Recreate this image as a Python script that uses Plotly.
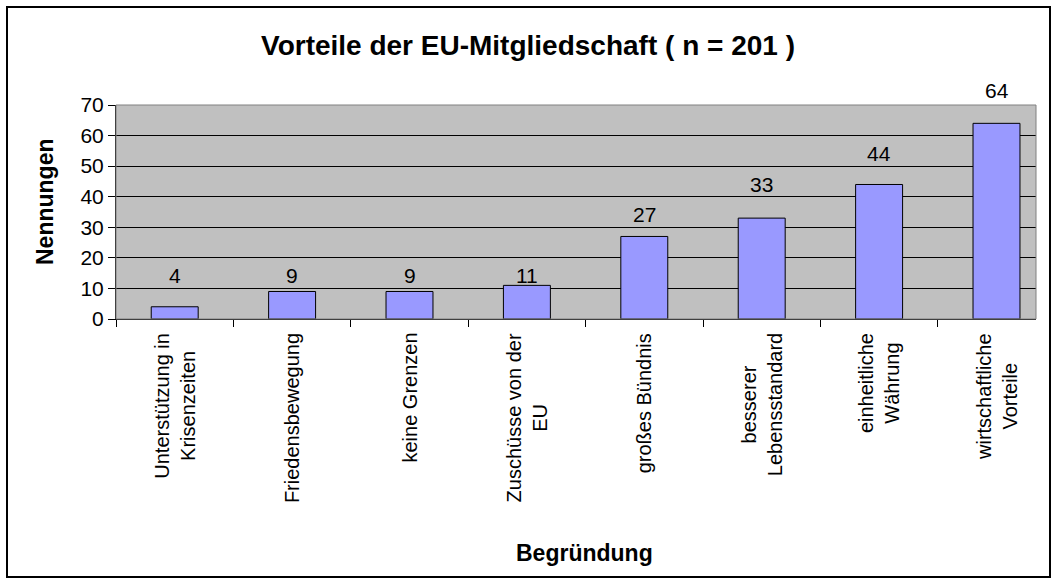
import plotly.graph_objects as go

# Survey answers: reasons named as advantages of EU membership
categories = [
    "Unterstützung in<br>Krisenzeiten",
    "Friedensbewegung",
    "keine Grenzen",
    "Zuschüsse von der<br>EU",
    "großes Bündnis",
    "besserer<br>Lebensstandard",
    "einheitliche<br>Währung",
    "wirtschaftliche<br>Vorteile",
]
counts = [4, 9, 9, 11, 27, 33, 44, 64]
y_ticks = [0, 10, 20, 30, 40, 50, 60, 70]

# vertical offset (px) of each value label above its bar top
label_lift = [31, 16, 16, 10, 22, 34, 31, 33]

W, H = 1056, 582
L, R, T, B = 116, 20, 105, 263  # margins in px
plot_w = W - L - R
plot_h = H - T - B
cat_px = 117.4                       # width of one category slot
x_hi = -0.5 + plot_w / cat_px        # last slot runs slightly past the frame

FONT = "Liberation Sans, Arial, sans-serif"


def py(px):
    """pixel row -> paper y"""
    return (H - B - px) / plot_h


def px_x(px):
    """pixel column -> paper x"""
    return (px - L) / plot_w


fig = go.Figure(
    go.Bar(
        x=categories,
        y=counts,
        marker=dict(color="#9999FF", line=dict(color="black", width=1)),
        width=0.40,
        hoverinfo="x+y",
    )
)

# value labels above each bar
for c, v, lift in zip(categories, counts, label_lift):
    fig.add_annotation(
        x=c, y=v, text=str(v), showarrow=False,
        yanchor="middle", yshift=lift,
        font=dict(family=FONT, size=21, color="black"),
    )

# category labels, rotated, lines centred on each other
for c in categories:
    fig.add_annotation(
        x=c, y=py(331), yref="paper", text=c, showarrow=False,
        textangle=-90, xanchor="center", yanchor="top", align="center",
        font=dict(family=FONT, size=20, color="black"),
    )

# axis titles
fig.add_annotation(
    x=px_x(584), y=py(553), xref="paper", yref="paper",
    text="<b>Begründung</b>", showarrow=False,
    xanchor="center", yanchor="middle",
    font=dict(family=FONT, size=23, color="black"),
)
fig.add_annotation(
    x=px_x(45), y=py(202), xref="paper", yref="paper",
    text="<b>Nennungen</b>", showarrow=False, textangle=-90,
    xanchor="center", yanchor="middle",
    font=dict(family=FONT, size=23, color="black"),
)

# outer chart frame
fig.add_shape(
    type="rect", xref="paper", yref="paper",
    x0=px_x(7), x1=px_x(1050), y0=py(577), y1=py(7),
    line=dict(color="black", width=2), fillcolor="rgba(0,0,0,0)",
)

# grey frame around the plotting area
fig.add_shape(
    type="rect", xref="paper", yref="paper", x0=0, x1=1, y0=0, y1=1,
    line=dict(color="#808080", width=1), fillcolor="rgba(0,0,0,0)",
    layer="above",
)

fig.update_layout(
    width=W, height=H,
    margin=dict(l=L, r=R, t=T, b=B, pad=0),
    paper_bgcolor="white",
    plot_bgcolor="#C0C0C0",
    showlegend=False,
    font=dict(family=FONT, size=20, color="black"),
    title=dict(
        text="<b>Vorteile der EU-Mitgliedschaft ( n = 201 )</b>",
        x=0.5, xref="container", xanchor="center",
        y=1 - 45 / H, yref="container", yanchor="middle",
        font=dict(family=FONT, size=28, color="black"),
    ),
    xaxis=dict(
        type="category",
        range=[-0.5, x_hi],
        showticklabels=False,
        ticks="outside", ticklen=7, tickcolor="black", tickwidth=1,
        tickson="boundaries",
        showline=True, linecolor="black", linewidth=1,
        showgrid=False,
    ),
    yaxis=dict(
        range=[0, 70],
        tickvals=y_ticks,
        ticks="outside", ticklen=7, tickcolor="black", tickwidth=1,
        showline=True, linecolor="black", linewidth=1,
        showgrid=True, gridcolor="black", gridwidth=1,
        zeroline=False,
        tickfont=dict(family=FONT, size=21, color="black"),
    ),
)

fig.write_html("out.html")
